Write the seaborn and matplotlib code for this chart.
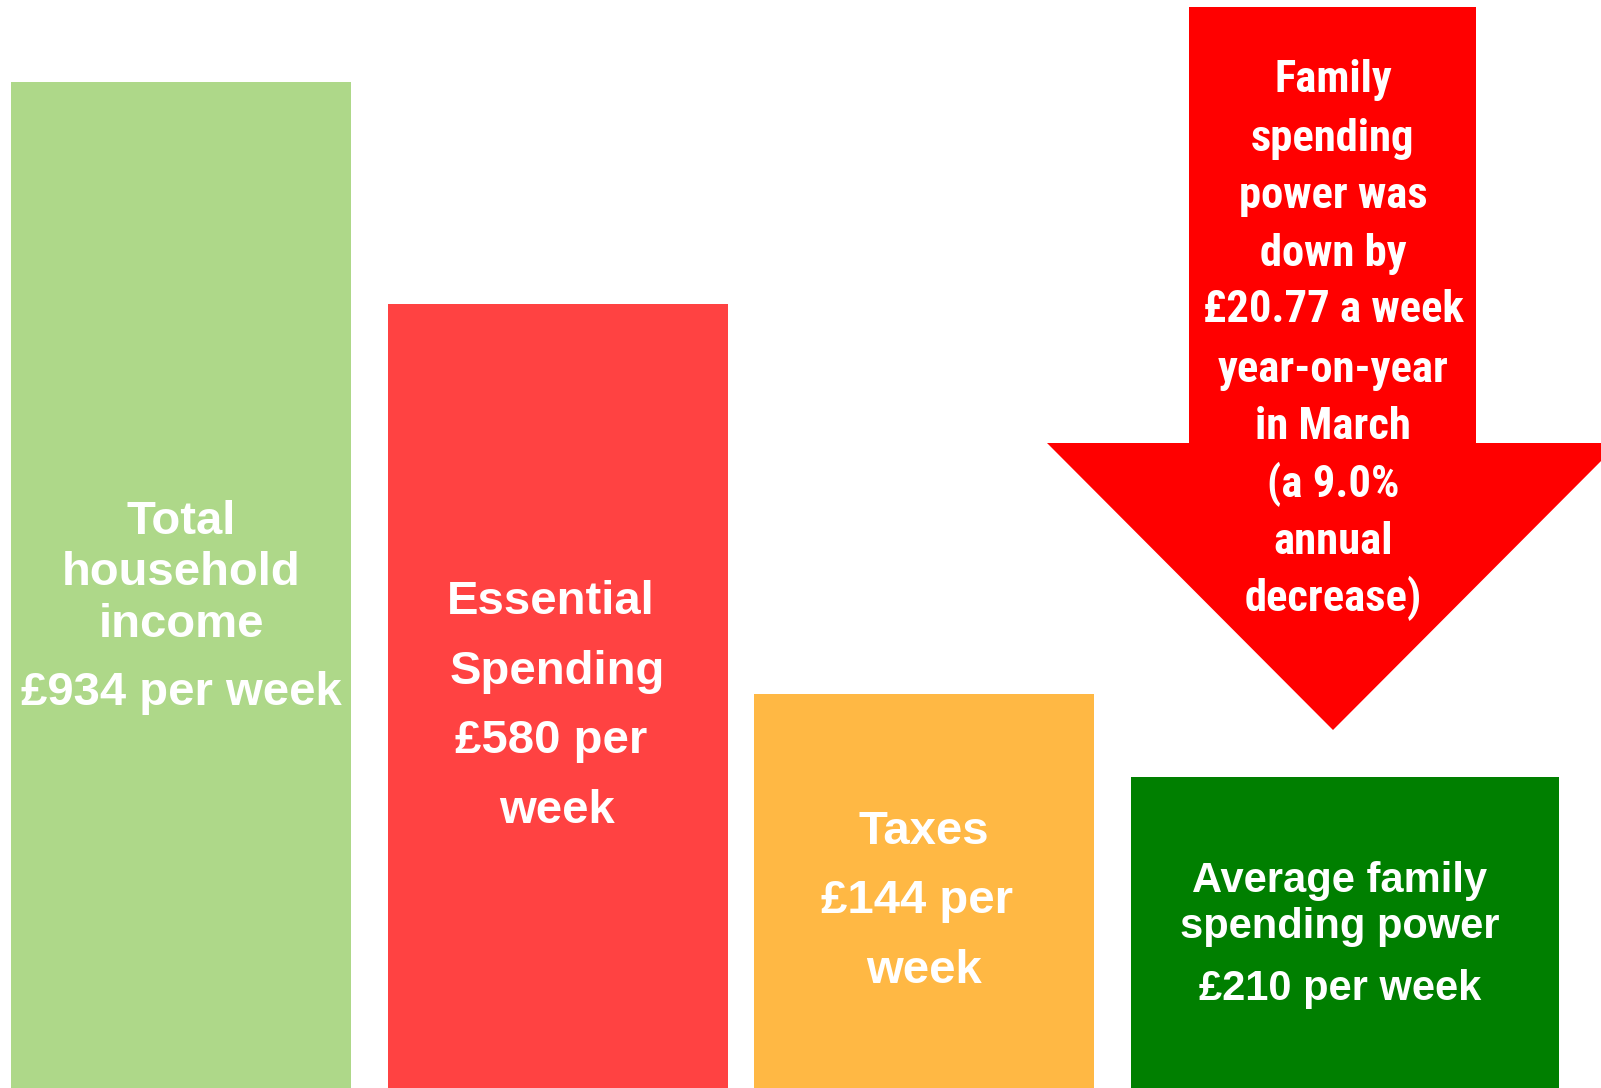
import numpy as np
import pandas as pd
import seaborn as sns
import matplotlib.pyplot as plt

# Visual bar heights (px from the bottom edge) and their labels
categories = ['Total household income', 'Essential spending', 'Taxes', 'Spending power']
bar_heights = [1006, 784, 394, 311]
bar_colors = ['#AED889', '#FF4242', '#FFB844', '#007F00']
bar_labels = [
    ['Total', 'household', 'income', '£934 per week'],
    ['Essential', 'Spending', '£580 per', 'week'],
    ['Taxes', '£144 per', 'week'],
    ['Average family', 'spending power', '£210 per week'],
]
arrow_lines = ['Family', 'spending', 'power was', 'down by', '£20.77 a week',
               'year-on-year', 'in March', '(a 9.0%', 'annual', 'decrease)']

# layout (pixel coords, y measured from the top)
W, H = 1601, 1088
bar_left = [11, 388, 754, 1131]
bar_right = [351, 728, 1094, 1559]
label_x = [[181, 181, 181, 181], [551, 557, 551, 557], [924, 917, 924], [1340, 1340, 1340]]
label_base = [[534, 585, 637, 705], [614, 684, 753, 823], [844, 913, 983], [892, 938, 1000]]
label_size = [34, 34, 34, 30]
arrow_base = [92, 151, 208, 266, 322, 382, 439, 497, 554, 611]
arrow_font = ['Roboto Condensed', 'Fira Sans Condensed', 'DejaVu Sans']

df = pd.DataFrame({'category': categories, 'height': bar_heights})

sns.set_theme(style='white')
plt.rcParams['font.family'] = ['Liberation Sans', 'DejaVu Sans']

fig = plt.figure(figsize=(W / 100, H / 100), dpi=100)
ax = fig.add_axes([0, 0, 1, 1])
sns.barplot(data=df, x='category', y='height', hue='category', palette=bar_colors,
            legend=False, ax=ax, saturation=1)
ax.set_xlim(0, W)
ax.set_ylim(0, H)

# spread the bars to their own positions and widths
for p, l, r in zip(ax.patches, bar_left, bar_right):
    p.set_x(l)
    p.set_width(r - l)
    p.set_edgecolor('none')

# big down arrow
shaft_l, shaft_r, shaft_top = 1189, 1476, 7
head_y, head_l, tip_x, tip_y = 443, 1047, 1333, 730
head_r = 2 * tip_x - head_l
xs = [shaft_l, shaft_r, shaft_r, head_r, tip_x, head_l, shaft_l, shaft_l]
ys = [shaft_top, shaft_top, head_y, head_y, tip_y, head_y, head_y, shaft_top]
ax.fill(xs, [H - y for y in ys], color='#FF0000', lw=0, zorder=3)

for lines, xx, bb, fs in zip(bar_labels, label_x, label_base, label_size):
    for t, x, b in zip(lines, xx, bb):
        ax.text(x, H - b, t, color='white', fontsize=fs, fontweight='bold',
                ha='center', va='baseline', zorder=4)

arrow_texts = []
for t, b in zip(arrow_lines, arrow_base):
    arrow_texts.append(ax.text(tip_x, H - b, t, color='white', fontsize=35,
                               fontweight='bold', family=arrow_font,
                               ha='center', va='baseline', zorder=4))

# size the arrow text so its widest line ("£20.77 a week") is ~261 px wide
r = fig.canvas.get_renderer()
w = arrow_texts[4].get_window_extent(renderer=r).width
for t in arrow_texts:
    t.set_fontsize(35 * 261 / w)

ax.set_axis_off()
fig.savefig('out.png', dpi=100)
